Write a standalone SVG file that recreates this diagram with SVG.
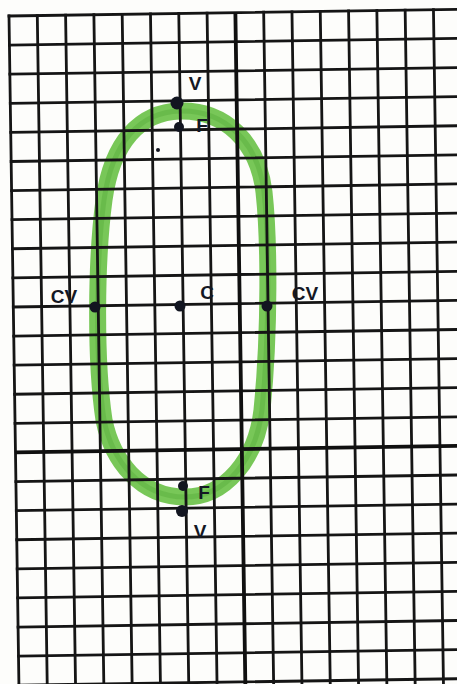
<svg xmlns="http://www.w3.org/2000/svg" width="457" height="684" viewBox="0 0 457 684">
<style>
.g{stroke:#151515;stroke-width:2.8;fill:none;stroke-linecap:square}
.ax{stroke:#101010;stroke-width:3.8;fill:none}
.lbl{font-family:"Liberation Sans",Arial,sans-serif;font-weight:bold;fill:#141824;font-size:19px}
.dot{fill:#121520}
</style>
<rect width="457" height="684" fill="#fdfdfb"/>
<g id="ellipse">
<path d="M180,111 C225,110 258,142 264,192 C269,237 270,330 262,410 C256,460 225,497 185,497 C140,497 112,460 104,420 C95,360 96,260 104,200 C112,142 140,112 180,111 Z" fill="none" stroke="#6cc24a" stroke-width="17" stroke-opacity="0.92"/>
<path d="M180,111 C225,110 258,142 264,192 C269,237 270,330 262,410 C256,460 225,497 185,497 C140,497 112,460 104,420 C95,360 96,260 104,200 C112,142 140,112 180,111 Z" fill="none" stroke="#4a9f2e" stroke-width="5" stroke-opacity="0.3"/>
</g>
<g id="grid" transform="rotate(-0.85 9 16)">
<path class="g" d="M9,16V720M37.3,16V720M65.6,16V720M93.9,16V720M122.2,16V720M150.5,16V720M178.8,16V720M207.1,16V720M263.7,16V720M292,16V720M320.3,16V720M348.6,16V720M376.9,16V720M405.2,16V720M433.5,16V720M461.8,16V720"/>
<path class="g" d="M9,16H490M9,45.1H490M9,74.2H490M9,103.3H490M9,132.4H490M9,161.5H490M9,190.6H490M9,219.7H490M9,248.8H490M9,277.9H490M9,307H490M9,336.1H490M9,365.2H490M9,394.3H490M9,423.4H490M9,481.6H490M9,510.7H490M9,539.8H490M9,568.9H490M9,598H490M9,627.1H490M9,656.2H490M9,685.3H490"/>
<path class="ax" d="M235.4,16V720M9,452.5H490"/>
</g>
<g id="vertex-top"><circle class="dot" cx="177" cy="103" r="6.5"/><text class="lbl" x="195" y="90" text-anchor="middle">V</text></g>
<g id="focus-top"><circle class="dot" cx="179" cy="127" r="5"/><text class="lbl" x="202" y="132" text-anchor="middle">F</text></g>
<g id="speck"><circle class="dot" cx="158" cy="150" r="2"/></g>
<g id="covertex-left"><circle class="dot" cx="95" cy="307" r="5.5"/><text class="lbl" x="64" y="303" text-anchor="middle">CV</text></g>
<g id="center"><circle class="dot" cx="180" cy="306" r="5.5"/><text class="lbl" x="207" y="299" text-anchor="middle">C</text></g>
<g id="covertex-right"><circle class="dot" cx="267" cy="306" r="5.5"/><text class="lbl" x="305" y="300" text-anchor="middle">CV</text></g>
<g id="focus-bottom"><circle class="dot" cx="183" cy="486" r="5"/><text class="lbl" x="204" y="499" text-anchor="middle">F</text></g>
<g id="vertex-bottom"><circle class="dot" cx="182" cy="511" r="6"/><text class="lbl" x="200" y="538" text-anchor="middle">V</text></g>
</svg>
